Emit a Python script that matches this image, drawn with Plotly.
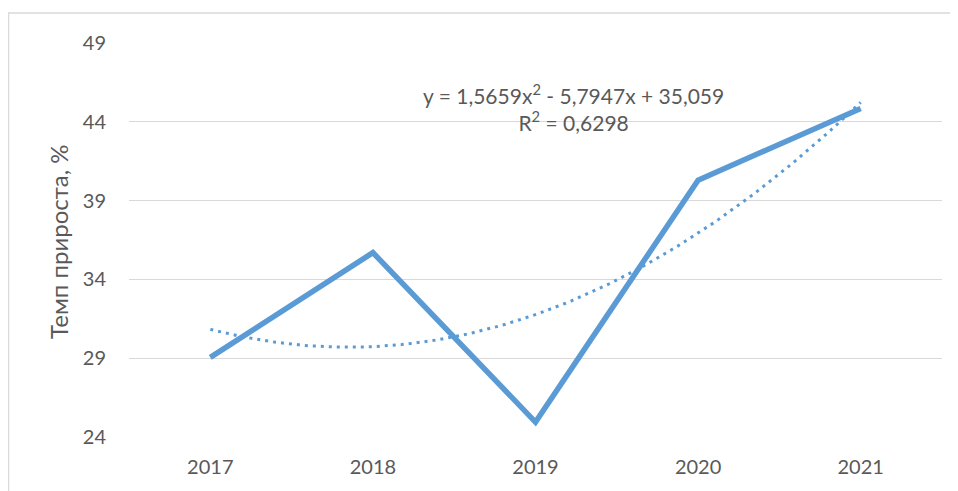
import numpy as np
import plotly.graph_objects as go

years = ["2017", "2018", "2019", "2020", "2021"]
growth = [29.05, 35.7, 24.95, 40.3, 44.85]
trend_coefs = [1.5659, -5.7947, 35.059]  # from the chart's trendline label
y_ticks = [24, 29, 34, 39, 44, 49]

idx = np.arange(len(years))
xs = np.linspace(0, len(years) - 1, 120)
trend = np.polyval(trend_coefs, xs + 1)

fig = go.Figure()
fig.add_trace(go.Scatter(x=xs, y=trend, mode="lines",
                         line=dict(color="#5B9BD5", width=3, dash="3px,5px"),
                         hoverinfo="skip", showlegend=False))
fig.add_trace(go.Scatter(x=idx, y=growth, mode="lines",
                         line=dict(color="#5B9BD5", width=5.5),
                         showlegend=False))

# page has an 8px body margin; plot area absolute: x 129..942, y 43..437
W, H = 950, 483
L, T = 121, 35
PW, PH = 813, 394
font_color = "#595959"
fig.update_layout(
    width=W, height=H,
    margin=dict(l=L, r=W - L - PW, t=T, b=H - T - PH),
    paper_bgcolor="white", plot_bgcolor="white",
    font=dict(family="Lato, Liberation Sans, sans-serif", size=20, color=font_color),
    xaxis=dict(range=[-0.5, 4.5], tickvals=list(idx), ticktext=years,
               showgrid=False, zeroline=False, showline=False, ticks="",
               ticklabelstandoff=16),
    yaxis=dict(range=[24, 49], tickvals=y_ticks, showgrid=True,
               gridcolor="#D9D9D9", gridwidth=1, zeroline=False, showline=False,
               ticks="", ticklabelstandoff=22),
    shapes=[dict(type="rect", xref="paper", yref="paper",
                 x0=(0.5 - L) / PW, x1=1.2, y0=-0.3, y1=1 + (T - 5) / PH,
                 line=dict(color="#D9D9D9", width=1.5), fillcolor="rgba(0,0,0,0)",
                 layer="below")],
    annotations=[
        dict(text="Темп прироста, %", textangle=-90, xref="paper", yref="paper",
             x=(50 - L) / PW, y=1 - (234 - T) / PH, showarrow=False, xanchor="center",
             yanchor="middle", font=dict(size=24, color=font_color)),
        dict(text="y = 1,5659x<sup>2</sup> - 5,7947x + 35,059<br>R<sup>2</sup> = 0,6298",
             xref="paper", yref="paper", x=(565 - L) / PW,
             y=1 - (99 - T) / PH, showarrow=False, align="center",
             xanchor="center", yanchor="middle",
             font=dict(size=21, color=font_color)),
    ],
)

fig.write_html("out.html")
